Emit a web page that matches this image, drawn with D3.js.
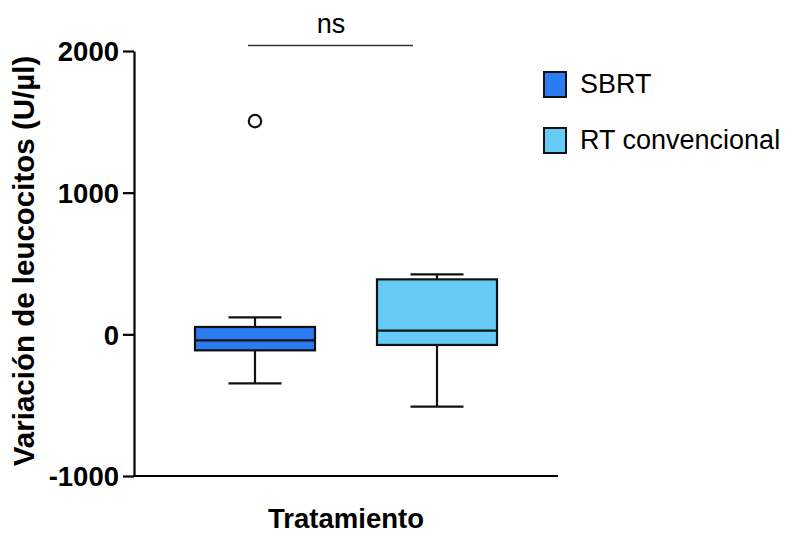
<!DOCTYPE html>
<html>
<head>
<meta charset="utf-8">
<script src="https://cdn.jsdelivr.net/npm/d3@7"></script>
<style>
  body { margin: 0; background: #fff; }
  text { font-family: "Liberation Sans", Arial, sans-serif; fill: #000; }
</style>
</head>
<body>
<svg id="chart" width="790" height="534"></svg>
<script>
const categories = ['SBRT', 'RT convencional'];
const whiskerLow = [-346, -510];
const q1 = [-113, -75];
const median = [-42, 26];
const q3 = [52, 388];
const whiskerHigh = [120, 423];
const outliers = [[1505], []];
const colors = ['#2b7cf2', '#66cbf7'];
const yTicks = [-1000, 0, 1000, 2000];

const svg = d3.select('#chart');

const y = d3.scaleLinear()
  .domain([-1000, 2000])
  .range([476, 51]);

const x = d3.scaleBand()
  .domain(categories)
  .range([164, 528])
  .padding(0);

const boxW = 120;
const capW = 53;

// axes
const yAxis = svg.append('g')
  .attr('transform', 'translate(134,0)')
  .call(d3.axisLeft(y).tickValues(yTicks).tickSize(11).tickSizeOuter(0).tickFormat(d => String(d)));
yAxis.select('.domain').attr('stroke', '#000').attr('stroke-width', 2.2);
yAxis.selectAll('.tick line').attr('stroke', '#000').attr('stroke-width', 2.2);
yAxis.selectAll('.tick text')
  .attr('x', -15)
  .attr('dy', '0.36em')
  .style('font-size', '27.5px')
  .style('font-weight', 'bold');

svg.append('line')
  .attr('x1', 133).attr('x2', 558)
  .attr('y1', y(-1000)).attr('y2', y(-1000))
  .attr('stroke', '#000').attr('stroke-width', 2.2);

// boxes
const rows = categories.map((c, i) => ({
  cat: c, lo: whiskerLow[i], q1: q1[i], med: median[i], q3: q3[i], hi: whiskerHigh[i],
  out: outliers[i], color: colors[i]
}));

const g = svg.append('g').selectAll('g').data(rows).enter().append('g');
const cx = d => x(d.cat) + x.bandwidth() / 2;

g.append('line')
  .attr('x1', cx).attr('x2', cx)
  .attr('y1', d => y(d.hi)).attr('y2', d => y(d.q3))
  .attr('stroke', '#111').attr('stroke-width', 2.2);
g.append('line')
  .attr('x1', cx).attr('x2', cx)
  .attr('y1', d => y(d.q1)).attr('y2', d => y(d.lo))
  .attr('stroke', '#111').attr('stroke-width', 2.2);
g.selectAll('.cap').data(d => [d.lo, d.hi].map(v => ({ v, d }))).enter().append('line')
  .attr('x1', e => cx(e.d) - capW / 2).attr('x2', e => cx(e.d) + capW / 2)
  .attr('y1', e => y(e.v)).attr('y2', e => y(e.v))
  .attr('stroke', '#111').attr('stroke-width', 2.2);
g.append('rect')
  .attr('x', d => cx(d) - boxW / 2)
  .attr('y', d => y(d.q3))
  .attr('width', boxW)
  .attr('height', d => y(d.q1) - y(d.q3))
  .attr('fill', d => d.color)
  .attr('stroke', '#111').attr('stroke-width', 2.2);
g.append('line')
  .attr('x1', d => cx(d) - boxW / 2).attr('x2', d => cx(d) + boxW / 2)
  .attr('y1', d => y(d.med)).attr('y2', d => y(d.med))
  .attr('stroke', '#111').attr('stroke-width', 2.2);
g.selectAll('.out').data(d => d.out.map(v => ({ v, d }))).enter().append('circle')
  .attr('cx', e => cx(e.d)).attr('cy', e => y(e.v)).attr('r', 6.2)
  .attr('fill', '#fff').attr('stroke', '#111').attr('stroke-width', 2.2);

// significance bar
svg.append('line')
  .attr('x1', 248).attr('x2', 413).attr('y1', 45.5).attr('y2', 45.5)
  .attr('stroke', '#333').attr('stroke-width', 1.6);
svg.append('text')
  .attr('x', 331).attr('y', 33)
  .attr('text-anchor', 'middle')
  .style('font-size', '27px')
  .text('ns');

// axis titles
svg.append('text')
  .attr('transform', 'translate(34,261) rotate(-90)')
  .attr('text-anchor', 'middle')
  .style('font-size', '29.5px')
  .style('font-weight', 'bold')
  .text('Variación de leucocitos (U/µl)');
svg.append('text')
  .attr('x', 346).attr('y', 528)
  .attr('text-anchor', 'middle')
  .style('font-size', '27.5px')
  .style('font-weight', 'bold')
  .text('Tratamiento');

// legend
const leg = svg.append('g').selectAll('g').data(categories).enter().append('g')
  .attr('transform', (d, i) => `translate(544,${72 + i * 56})`);
leg.append('rect')
  .attr('width', 22).attr('height', 25)
  .attr('fill', (d, i) => colors[i])
  .attr('stroke', '#111').attr('stroke-width', 2);
leg.append('text')
  .attr('x', 36).attr('y', 21)
  .style('font-size', '27px')
  .text(d => d);
</script>
</body>
</html>
